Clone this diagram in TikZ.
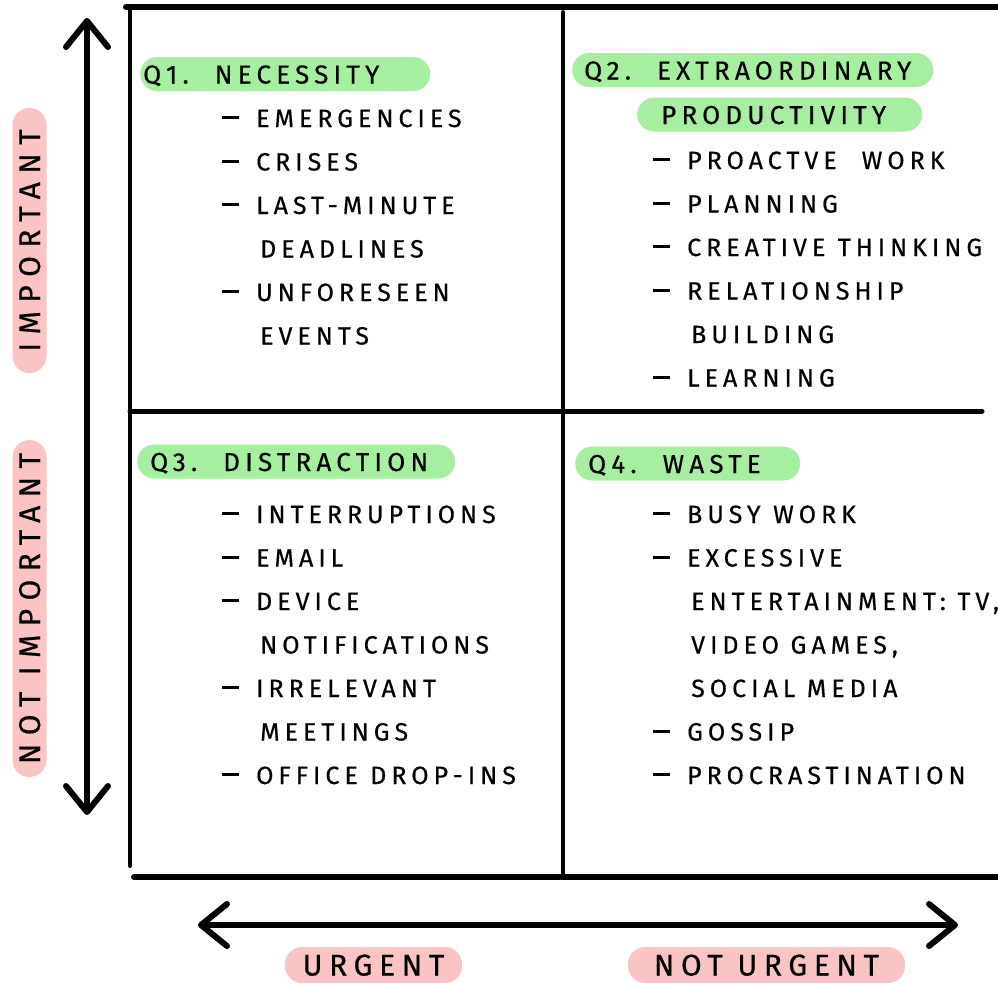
\documentclass[tikz,border=0pt]{standalone}
\usepackage{fontspec}
\setmainfont{Fira Sans}[LetterSpace=20, FakeBold=0.5]
\newfontfamily\tagfont{Fira Sans}[LetterSpace=22, FakeBold=0.5]
\newfontfamily\vtagfont{Fira Sans}[LetterSpace=28, FakeBold=0.5]
\usetikzlibrary{positioning, arrows.meta}
\definecolor{quadgreen}{RGB}{166,238,160}
\definecolor{axispink}{RGB}{250,196,196}
\newcommand{\bul}{\makebox[34pt][l]{\rule[8pt]{17pt}{3pt}}}
\newcommand{\nobul}{\hspace*{38pt}}
\tikzset{
  gridline/.style={line width=5pt, line cap=round},
  divider/.style={line width=4pt, line cap=round},
  axis/.style={line width=6pt, line cap=round,
    {Straight Barb[length=26pt, width=42pt, round]}-{Straight Barb[length=26pt, width=42pt, round]}},
  heading/.style={rectangle, rounded corners=17pt, fill=quadgreen, anchor=west,
    minimum height=34pt, inner ysep=0pt, align=left, text height=19pt, text depth=0pt,
    font=\fontsize{26}{26}\selectfont},
  tag/.style={rectangle, rounded corners=17pt, fill=axispink, minimum height=34pt,
    inner ysep=0pt, text height=21pt, text depth=0pt, font=\tagfont\fontsize{30}{30}\selectfont},
  vtag/.style={tag, rotate=90, font=\vtagfont\fontsize{30}{30}\selectfont},
  item/.style={anchor=west, inner sep=0pt, text height=18pt, text depth=0pt,
    font=\fontsize{25}{25}\selectfont},
}

\begin{document}
\begin{tikzpicture}[x=1pt, y=-1pt, node distance=43.5pt]
  \useasboundingbox (0,0) rectangle (998,983);

  % the grid
  \coordinate (TL) at (126,7);
  \coordinate (TR) at (1004,7);
  \coordinate (LT) at (130,10);
  \coordinate (LB) at (130,866);
  \coordinate (MT) at (563,12);
  \coordinate (MB) at (563,875);
  \coordinate (ML) at (130,411);
  \coordinate (MR) at (982,411);
  \coordinate (BL) at (134,877);
  \coordinate (BR) at (1004,877);
  \draw[gridline, line width=6pt] (TL) -- (TR);
  \draw[divider] (LT) -- (LB);
  \draw[divider] (MT) -- (MB);
  \draw[gridline] (ML) -- (MR);
  \draw[gridline, line width=6pt] (BL) -- (BR);

  % axes
  \coordinate (VUP) at (87,18);
  \coordinate (VDN) at (87,815);
  \coordinate (HL) at (198,925);
  \coordinate (HR) at (958,925);
  \draw[axis] (VDN) -- (VUP);
  \draw[axis] (HL) -- (HR);

  \node[vtag, minimum width=265pt] (IMP) at (29.5,240.5) {IMPORTANT};
  \node[vtag, minimum width=337pt] (NIMP) at (29.5,608.5) {NOT IMPORTANT};
  \node[tag, minimum width=177pt, minimum height=36pt] (URG) at (373.5,965) {URGENT};
  \node[tag, minimum width=277pt, minimum height=36pt] (NURG) at (766.5,965) {NOT URGENT};

  % quadrant titles
  \node[heading, inner xsep=3pt, text width=284pt] (Q1) at (140,74) {Q1.\quad NECESSITY};
  \node[heading, inner xsep=12pt, text width=337pt] (Q2) at (572,70) {Q2.\quad EXTRAORDINARY};
  \node[heading, inner xsep=24pt, text width=237pt] (Q2B) at (637,114.5) {PRODUCTIVITY};
  \node[heading, inner xsep=13pt, text width=292pt] (Q3) at (137,461.5) {Q3.\quad DISTRACTION};
  \node[heading, inner xsep=13pt, text width=199pt] (Q4) at (575,463.5) {Q4.\quad WASTE};

  % Q1
  \node[item] (EMERG) at (222,118) {\bul EMERGENCIES};
  \node[below=of EMERG.west, item] (CRIS) {\bul CRISES};
  \node[below=of CRIS.west, item] (LASTM) {\bul LAST-MINUTE};
  \node[below=of LASTM.west, item] (DEADL) {\nobul DEADLINES};
  \node[below=of DEADL.west, item] (UNFOR) {\bul UNFORESEEN};
  \node[below=of UNFOR.west, item] (EVENT) {\nobul EVENTS};

  % Q2
  \node[item] (PROAC) at (653,160) {\bul PROACTVE\quad WORK};
  \node[below=of PROAC.west, item] (PLAN) {\bul PLANNING};
  \node[below=of PLAN.west, item] (CREAT) {\bul CREATIVE\enspace THINKING};
  \node[below=of CREAT.west, item] (RELAT) {\bul RELATIONSHIP};
  \node[below=of RELAT.west, item] (BUILD) {\nobul BUILDING};
  \node[below=of BUILD.west, item] (LEARN) {\bul LEARNING};

  % Q3
  \node[item] (INTER) at (222,514) {\bul INTERRUPTIONS};
  \node[below=of INTER.west, item] (EMAIL) {\bul EMAIL};
  \node[below=of EMAIL.west, item] (DEVIC) {\bul DEVICE};
  \node[below=of DEVIC.west, item] (NOTIF) {\nobul NOTIFICATIONS};
  \node[below=of NOTIF.west, item] (IRREL) {\bul IRRELEVANT};
  \node[below=of IRREL.west, item] (MEET) {\nobul MEETINGS};
  \node[below=of MEET.west, item] (DROP) {\bul OFFICE\enspace DROP-INS};

  % Q4
  \node[item] (BUSY) at (653,514) {\bul BUSY\enspace WORK};
  \node[below=of BUSY.west, item] (EXCES) {\bul EXCESSIVE};
  \node[below=of EXCES.west, item] (ENTER) {\nobul ENTERTAINMENT: TV,};
  \node[below=of ENTER.west, item] (VIDEO) {\nobul VIDEO GAMES,};
  \node[below=of VIDEO.west, item] (SOCIAL) {\nobul SOCIAL MEDIA};
  \node[below=of SOCIAL.west, item] (GOSS) {\bul GOSSIP};
  \node[below=of GOSS.west, item] (PROCR) {\bul PROCRASTINATION};
\end{tikzpicture}
\end{document}
